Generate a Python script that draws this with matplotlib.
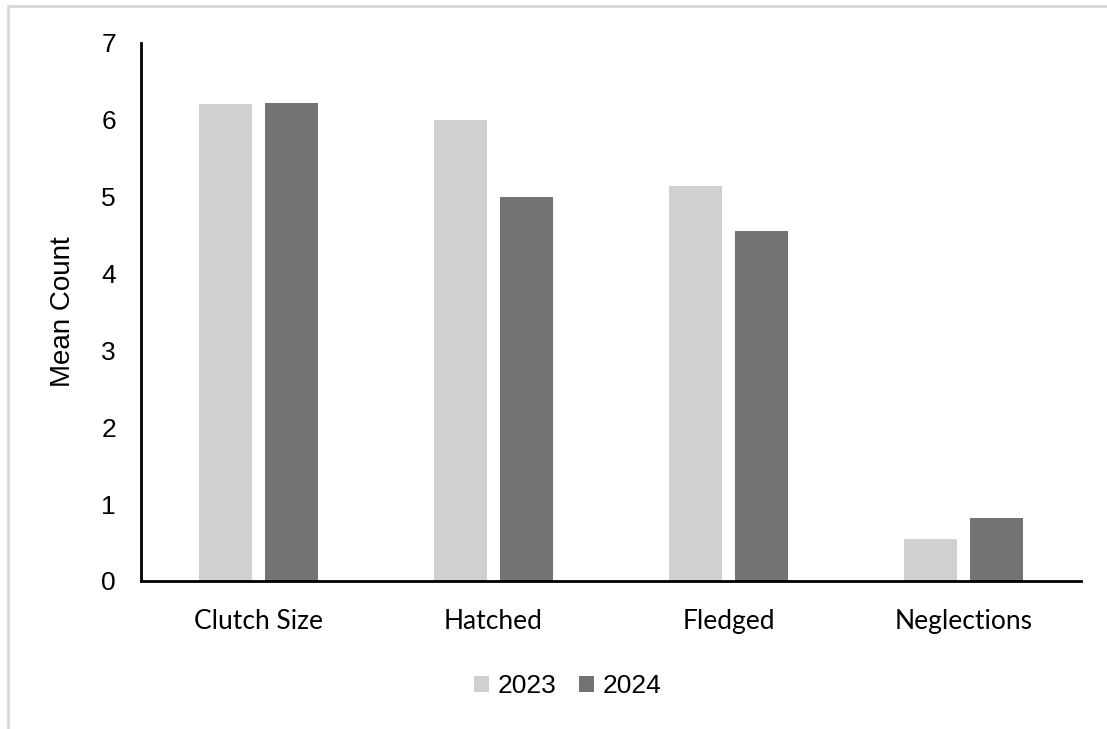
import matplotlib
matplotlib.use("Agg")
import matplotlib.pyplot as plt
import numpy as np
from matplotlib.patches import Rectangle

categories = ["Clutch Size", "Hatched", "Fledged", "Neglections"]
years = ["2023", "2024"]
vals_2023 = [6.21, 6.00, 5.14, 0.55]
vals_2024 = [6.22, 5.00, 4.55, 0.82]
colors = ["#d0d0d0", "#737373"]

W, H = 1107, 729
fig = plt.figure(figsize=(W / 100, H / 100), dpi=100)
ax = fig.add_axes([141 / W, 1 - 581 / H, (1081 - 141) / W, (581 - 43) / H])

# light frame around the whole chart
fig.patches.append(Rectangle((8 / W, -0.05), 1.2, 1 - 6 / H + 0.05, transform=fig.transFigure,
                             fill=False, edgecolor="#d9d9d9", linewidth=2))

x = np.arange(len(categories))
w = 0.225
off = 0.14
ax.bar(x - off, vals_2023, w, color=colors[0], label=years[0])
ax.bar(x + off, vals_2024, w, color=colors[1], label=years[1])

ax.set_xlim(-0.5, len(categories) - 0.5)
ax.set_ylim(0, 7)
ax.set_yticks(range(8))
for s in ["top", "right"]:
    ax.spines[s].set_visible(False)
ax.spines["left"].set_linewidth(2)
ax.spines["bottom"].set_linewidth(2)
ax.tick_params(axis="both", length=0)
ax.tick_params(axis="y", pad=18)
ax.tick_params(axis="x", pad=20)
for t in ax.get_yticklabels():
    t.set_fontfamily("Liberation Sans")
    t.set_fontsize(19)
ax.set_xticks(x)
ax.set_xticklabels(categories, fontfamily="Lato", fontsize=19)
ax.set_ylabel("Mean Count", fontfamily="Liberation Sans", fontsize=20, labelpad=18)

leg = fig.legend(loc="center", bbox_to_anchor=(568 / W, 1 - 686 / H), ncol=2, frameon=False,
                 prop={"family": "Liberation Sans", "size": 19},
                 handlelength=0.55, handleheight=0.55, handletextpad=0.35, columnspacing=0.85)

fig.savefig("out.png", dpi=100)
